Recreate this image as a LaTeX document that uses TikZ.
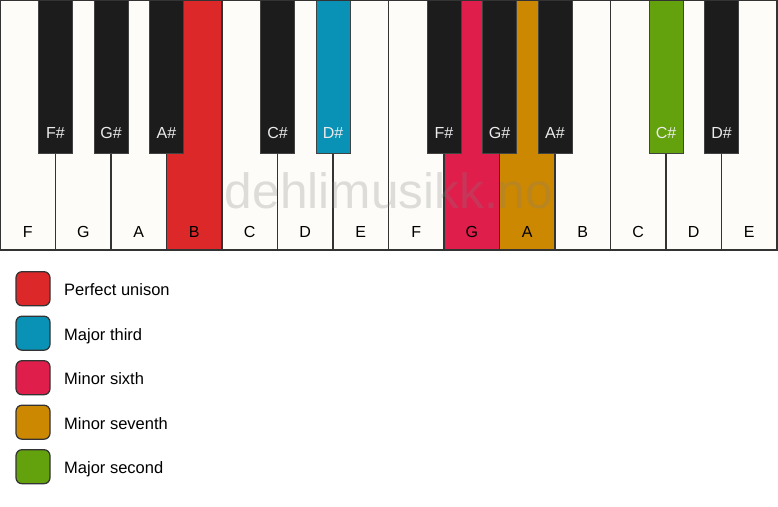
\documentclass[tikz,border=0pt]{standalone}
\usepackage{fontspec}
\setmainfont{Liberation Sans}
\definecolor{keywhite}{HTML}{FDFCF8}
\definecolor{keyblack}{HTML}{1C1C1C}
\definecolor{edge}{HTML}{333333}
\definecolor{cunison}{HTML}{DC2828}
\definecolor{cthird}{HTML}{0A92B6}
\definecolor{csixth}{HTML}{E01E4B}
\definecolor{cseventh}{HTML}{CC8800}
\definecolor{csecond}{HTML}{64A20D}
\tikzset{
  whitekey/.style={draw=edge, line width=1.2pt, fill=keywhite},
  blackkey/.style={draw=edge!80!gray, line width=1pt, fill=keyblack},
  wlabel/.style={font=\fontsize{16}{19}\selectfont, text=black, anchor=base},
  blabel/.style={font=\fontsize{16}{19}\selectfont, text=white!92!black, anchor=base},
  legbox/.style={draw=edge, line width=1.2pt, rounded corners=6pt, minimum width=34pt, minimum height=34pt, inner sep=0pt},
  legtext/.style={font=\fontsize{16.5}{19}\selectfont, anchor=base west, inner sep=0pt},
}
\begin{document}
\begin{tikzpicture}[x=1pt,y=-1pt]
\useasboundingbox (0,0) rectangle (778,506);
\fill[white] (0,0) rectangle (778,506);
\def\kw{55.5}
% white keys
\foreach \i/\n/\c in {0/F/keywhite,1/G/keywhite,2/A/keywhite,3/B/cunison,4/C/keywhite,5/D/keywhite,6/E/keywhite,7/F/keywhite,8/G/csixth,9/A/cseventh,10/B/keywhite,11/C/keywhite,12/D/keywhite,13/E/keywhite}{
  \draw[whitekey, fill=\c] ({\i*\kw},0.5) rectangle ({(\i+1)*\kw},250);
  \node[wlabel] (w\i) at ({(\i+0.5)*\kw},237) {\n};
}
% watermark
\node[font=\fontsize{49.6}{56}\selectfont, text=gray, opacity=0.25, anchor=base] (wm) at (389,208) {dehlimusikk.no};
% black keys
\foreach \b/\n/\c in {1/F\#/keyblack,2/G\#/keyblack,3/A\#/keyblack,5/C\#/keyblack,6/D\#/cthird,8/F\#/keyblack,9/G\#/keyblack,10/A\#/keyblack,12/C\#/csecond,13/D\#/keyblack}{
  \draw[blackkey, fill=\c] ({\b*\kw-17},0.5) rectangle ({\b*\kw+17},153);
  \node[blabel] (b\b) at ({\b*\kw},138) {\n};
}
\draw[edge, line width=1.2pt] (0,0.5) rectangle (777.5,250);
% legend
\foreach \j/\c/\t in {0/cunison/Perfect unison,1/cthird/Major third,2/csixth/Minor sixth,3/cseventh/Minor seventh,4/csecond/Major second}{
  \node[legbox, fill=\c] (lb\j) at (33,{288.7+\j*44.5}) {};
  \node[legtext] (lt\j) at (64,{295.5+\j*44.5}) {\t};
}
\end{tikzpicture}
\end{document}
